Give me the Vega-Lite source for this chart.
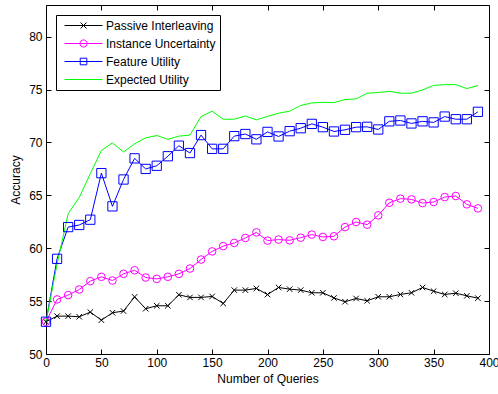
{
  "$schema": "https://vega.github.io/schema/vega-lite/v6.json",
  "width": 443,
  "height": 349,
  "autosize": "none",
  "padding": {"left": 46, "top": 5, "right": 9, "bottom": 40},
  "background": "white",
  "config": {
    "font": "Liberation Sans",
    "view": {"stroke": null},
    "axis": {
      "domainColor": "black", "tickColor": "black", "labelColor": "black", "titleColor": "black",
      "labelFontSize": 12, "titleFontSize": 12, "titleFontWeight": "normal",
      "tickSize": -5, "grid": false, "domainWidth": 1, "tickWidth": 1
    }
  },
  "datasets": {
    "acc": [
      {"series": "Passive Interleaving", "queries": 0, "accuracy": 53.05},
      {"series": "Passive Interleaving", "queries": 10, "accuracy": 53.58},
      {"series": "Passive Interleaving", "queries": 20, "accuracy": 53.58},
      {"series": "Passive Interleaving", "queries": 30, "accuracy": 53.52},
      {"series": "Passive Interleaving", "queries": 40, "accuracy": 53.96},
      {"series": "Passive Interleaving", "queries": 50, "accuracy": 53.2},
      {"series": "Passive Interleaving", "queries": 60, "accuracy": 53.9},
      {"series": "Passive Interleaving", "queries": 70, "accuracy": 54.06},
      {"series": "Passive Interleaving", "queries": 80, "accuracy": 55.4},
      {"series": "Passive Interleaving", "queries": 90, "accuracy": 54.28},
      {"series": "Passive Interleaving", "queries": 100, "accuracy": 54.56},
      {"series": "Passive Interleaving", "queries": 110, "accuracy": 54.56},
      {"series": "Passive Interleaving", "queries": 120, "accuracy": 55.6},
      {"series": "Passive Interleaving", "queries": 130, "accuracy": 55.35},
      {"series": "Passive Interleaving", "queries": 140, "accuracy": 55.35},
      {"series": "Passive Interleaving", "queries": 150, "accuracy": 55.44},
      {"series": "Passive Interleaving", "queries": 160, "accuracy": 54.78},
      {"series": "Passive Interleaving", "queries": 170, "accuracy": 56.04},
      {"series": "Passive Interleaving", "queries": 180, "accuracy": 56.04},
      {"series": "Passive Interleaving", "queries": 190, "accuracy": 56.2},
      {"series": "Passive Interleaving", "queries": 200, "accuracy": 55.62},
      {"series": "Passive Interleaving", "queries": 210, "accuracy": 56.29},
      {"series": "Passive Interleaving", "queries": 220, "accuracy": 56.13},
      {"series": "Passive Interleaving", "queries": 230, "accuracy": 56.04},
      {"series": "Passive Interleaving", "queries": 240, "accuracy": 55.79},
      {"series": "Passive Interleaving", "queries": 250, "accuracy": 55.79},
      {"series": "Passive Interleaving", "queries": 260, "accuracy": 55.3},
      {"series": "Passive Interleaving", "queries": 270, "accuracy": 54.94},
      {"series": "Passive Interleaving", "queries": 280, "accuracy": 55.25},
      {"series": "Passive Interleaving", "queries": 290, "accuracy": 55.03},
      {"series": "Passive Interleaving", "queries": 300, "accuracy": 55.41},
      {"series": "Passive Interleaving", "queries": 310, "accuracy": 55.41},
      {"series": "Passive Interleaving", "queries": 320, "accuracy": 55.63},
      {"series": "Passive Interleaving", "queries": 330, "accuracy": 55.79},
      {"series": "Passive Interleaving", "queries": 340, "accuracy": 56.29},
      {"series": "Passive Interleaving", "queries": 350, "accuracy": 55.94},
      {"series": "Passive Interleaving", "queries": 360, "accuracy": 55.63},
      {"series": "Passive Interleaving", "queries": 370, "accuracy": 55.75},
      {"series": "Passive Interleaving", "queries": 380, "accuracy": 55.5},
      {"series": "Passive Interleaving", "queries": 390, "accuracy": 55.28},
      {"series": "Instance Uncertainty", "queries": 0, "accuracy": 53.05},
      {"series": "Instance Uncertainty", "queries": 10, "accuracy": 55.16},
      {"series": "Instance Uncertainty", "queries": 20, "accuracy": 55.57},
      {"series": "Instance Uncertainty", "queries": 30, "accuracy": 56.1},
      {"series": "Instance Uncertainty", "queries": 40, "accuracy": 56.89},
      {"series": "Instance Uncertainty", "queries": 50, "accuracy": 57.3},
      {"series": "Instance Uncertainty", "queries": 60, "accuracy": 56.95},
      {"series": "Instance Uncertainty", "queries": 70, "accuracy": 57.58},
      {"series": "Instance Uncertainty", "queries": 80, "accuracy": 57.92},
      {"series": "Instance Uncertainty", "queries": 90, "accuracy": 57.23},
      {"series": "Instance Uncertainty", "queries": 100, "accuracy": 57.1},
      {"series": "Instance Uncertainty", "queries": 110, "accuracy": 57.3},
      {"series": "Instance Uncertainty", "queries": 120, "accuracy": 57.58},
      {"series": "Instance Uncertainty", "queries": 130, "accuracy": 58.08},
      {"series": "Instance Uncertainty", "queries": 140, "accuracy": 58.93},
      {"series": "Instance Uncertainty", "queries": 150, "accuracy": 59.7},
      {"series": "Instance Uncertainty", "queries": 160, "accuracy": 60.2},
      {"series": "Instance Uncertainty", "queries": 170, "accuracy": 60.5},
      {"series": "Instance Uncertainty", "queries": 180, "accuracy": 60.97},
      {"series": "Instance Uncertainty", "queries": 190, "accuracy": 61.5},
      {"series": "Instance Uncertainty", "queries": 200, "accuracy": 60.72},
      {"series": "Instance Uncertainty", "queries": 210, "accuracy": 60.82},
      {"series": "Instance Uncertainty", "queries": 220, "accuracy": 60.75},
      {"series": "Instance Uncertainty", "queries": 230, "accuracy": 61.0},
      {"series": "Instance Uncertainty", "queries": 240, "accuracy": 61.29},
      {"series": "Instance Uncertainty", "queries": 250, "accuracy": 61.07},
      {"series": "Instance Uncertainty", "queries": 260, "accuracy": 61.13},
      {"series": "Instance Uncertainty", "queries": 270, "accuracy": 62.0},
      {"series": "Instance Uncertainty", "queries": 280, "accuracy": 62.48},
      {"series": "Instance Uncertainty", "queries": 290, "accuracy": 62.23},
      {"series": "Instance Uncertainty", "queries": 300, "accuracy": 63.11},
      {"series": "Instance Uncertainty", "queries": 310, "accuracy": 64.3},
      {"series": "Instance Uncertainty", "queries": 320, "accuracy": 64.69},
      {"series": "Instance Uncertainty", "queries": 330, "accuracy": 64.62},
      {"series": "Instance Uncertainty", "queries": 340, "accuracy": 64.27},
      {"series": "Instance Uncertainty", "queries": 350, "accuracy": 64.37},
      {"series": "Instance Uncertainty", "queries": 360, "accuracy": 64.84},
      {"series": "Instance Uncertainty", "queries": 370, "accuracy": 64.94},
      {"series": "Instance Uncertainty", "queries": 380, "accuracy": 64.15},
      {"series": "Instance Uncertainty", "queries": 390, "accuracy": 63.77},
      {"series": "Feature Utility", "queries": 0, "accuracy": 53.05},
      {"series": "Feature Utility", "queries": 10, "accuracy": 59.0},
      {"series": "Feature Utility", "queries": 20, "accuracy": 62.0},
      {"series": "Feature Utility", "queries": 30, "accuracy": 62.2},
      {"series": "Feature Utility", "queries": 40, "accuracy": 62.7},
      {"series": "Feature Utility", "queries": 50, "accuracy": 67.1},
      {"series": "Feature Utility", "queries": 60, "accuracy": 63.96},
      {"series": "Feature Utility", "queries": 70, "accuracy": 66.5},
      {"series": "Feature Utility", "queries": 80, "accuracy": 68.5},
      {"series": "Feature Utility", "queries": 90, "accuracy": 67.5},
      {"series": "Feature Utility", "queries": 100, "accuracy": 67.8},
      {"series": "Feature Utility", "queries": 110, "accuracy": 68.7},
      {"series": "Feature Utility", "queries": 120, "accuracy": 69.7},
      {"series": "Feature Utility", "queries": 130, "accuracy": 69.0},
      {"series": "Feature Utility", "queries": 140, "accuracy": 70.7},
      {"series": "Feature Utility", "queries": 150, "accuracy": 69.4},
      {"series": "Feature Utility", "queries": 160, "accuracy": 69.4},
      {"series": "Feature Utility", "queries": 170, "accuracy": 70.6},
      {"series": "Feature Utility", "queries": 180, "accuracy": 70.8},
      {"series": "Feature Utility", "queries": 190, "accuracy": 70.3},
      {"series": "Feature Utility", "queries": 200, "accuracy": 71.0},
      {"series": "Feature Utility", "queries": 210, "accuracy": 70.57},
      {"series": "Feature Utility", "queries": 220, "accuracy": 71.07},
      {"series": "Feature Utility", "queries": 230, "accuracy": 71.35},
      {"series": "Feature Utility", "queries": 240, "accuracy": 71.76},
      {"series": "Feature Utility", "queries": 250, "accuracy": 71.45},
      {"series": "Feature Utility", "queries": 260, "accuracy": 71.04},
      {"series": "Feature Utility", "queries": 270, "accuracy": 71.2},
      {"series": "Feature Utility", "queries": 280, "accuracy": 71.45},
      {"series": "Feature Utility", "queries": 290, "accuracy": 71.48},
      {"series": "Feature Utility", "queries": 300, "accuracy": 71.23},
      {"series": "Feature Utility", "queries": 310, "accuracy": 72.0},
      {"series": "Feature Utility", "queries": 320, "accuracy": 72.08},
      {"series": "Feature Utility", "queries": 330, "accuracy": 71.8},
      {"series": "Feature Utility", "queries": 340, "accuracy": 72.0},
      {"series": "Feature Utility", "queries": 350, "accuracy": 71.9},
      {"series": "Feature Utility", "queries": 360, "accuracy": 72.45},
      {"series": "Feature Utility", "queries": 370, "accuracy": 72.2},
      {"series": "Feature Utility", "queries": 380, "accuracy": 72.2},
      {"series": "Feature Utility", "queries": 390, "accuracy": 72.9},
      {"series": "Expected Utility", "queries": 0, "accuracy": 53.05},
      {"series": "Expected Utility", "queries": 10, "accuracy": 58.5},
      {"series": "Expected Utility", "queries": 20, "accuracy": 63.27},
      {"series": "Expected Utility", "queries": 30, "accuracy": 64.8},
      {"series": "Expected Utility", "queries": 40, "accuracy": 67.05},
      {"series": "Expected Utility", "queries": 50, "accuracy": 69.25},
      {"series": "Expected Utility", "queries": 60, "accuracy": 69.97},
      {"series": "Expected Utility", "queries": 70, "accuracy": 69.1},
      {"series": "Expected Utility", "queries": 80, "accuracy": 69.87},
      {"series": "Expected Utility", "queries": 90, "accuracy": 70.44},
      {"series": "Expected Utility", "queries": 100, "accuracy": 70.66},
      {"series": "Expected Utility", "queries": 110, "accuracy": 70.3},
      {"series": "Expected Utility", "queries": 120, "accuracy": 70.6},
      {"series": "Expected Utility", "queries": 130, "accuracy": 70.7},
      {"series": "Expected Utility", "queries": 140, "accuracy": 72.45},
      {"series": "Expected Utility", "queries": 150, "accuracy": 72.96},
      {"series": "Expected Utility", "queries": 160, "accuracy": 72.2},
      {"series": "Expected Utility", "queries": 170, "accuracy": 72.2},
      {"series": "Expected Utility", "queries": 180, "accuracy": 72.5},
      {"series": "Expected Utility", "queries": 190, "accuracy": 72.14},
      {"series": "Expected Utility", "queries": 200, "accuracy": 72.47},
      {"series": "Expected Utility", "queries": 210, "accuracy": 72.77},
      {"series": "Expected Utility", "queries": 220, "accuracy": 72.96},
      {"series": "Expected Utility", "queries": 230, "accuracy": 73.5},
      {"series": "Expected Utility", "queries": 240, "accuracy": 73.74},
      {"series": "Expected Utility", "queries": 250, "accuracy": 73.8},
      {"series": "Expected Utility", "queries": 260, "accuracy": 73.77},
      {"series": "Expected Utility", "queries": 270, "accuracy": 74.06},
      {"series": "Expected Utility", "queries": 280, "accuracy": 74.12},
      {"series": "Expected Utility", "queries": 290, "accuracy": 74.66},
      {"series": "Expected Utility", "queries": 300, "accuracy": 74.72},
      {"series": "Expected Utility", "queries": 310, "accuracy": 74.84},
      {"series": "Expected Utility", "queries": 320, "accuracy": 74.66},
      {"series": "Expected Utility", "queries": 330, "accuracy": 74.66},
      {"series": "Expected Utility", "queries": 340, "accuracy": 74.97},
      {"series": "Expected Utility", "queries": 350, "accuracy": 75.4},
      {"series": "Expected Utility", "queries": 360, "accuracy": 75.47},
      {"series": "Expected Utility", "queries": 370, "accuracy": 75.47},
      {"series": "Expected Utility", "queries": 380, "accuracy": 75.1},
      {"series": "Expected Utility", "queries": 390, "accuracy": 75.38}
    ]
  },
  "data": {"name": "acc"},
  "resolve": {"axis": {"x": "independent", "y": "independent"}},
  "layer": [
    {
      "mark": {"type": "line", "strokeWidth": 1},
      "encoding": {
        "x": {
          "field": "queries", "type": "quantitative",
          "scale": {"domain": [0, 400], "nice": false},
          "axis": {"values": [0, 50, 100, 150, 200, 250, 300, 350, 400], "title": "Number of Queries", "labelPadding": 8, "titlePadding": 5, "labelFlush": false}
        },
        "y": {
          "field": "accuracy", "type": "quantitative",
          "scale": {"domain": [50, 83], "nice": false, "zero": false},
          "axis": {"values": [50, 55, 60, 65, 70, 75, 80], "title": "Accuracy", "labelPadding": 9, "titlePadding": 6, "labelFlush": false}
        },
        "color": {
          "field": "series", "type": "nominal",
          "scale": {"domain": ["Passive Interleaving", "Instance Uncertainty", "Feature Utility", "Expected Utility"], "range": ["#000000", "#ff00ff", "#0000ff", "#00ff00"]},
          "legend": {
            "title": null, "orient": "top-left", "offset": 10, "padding": 4,
            "strokeColor": "black", "fillColor": "white", "cornerRadius": 0,
            "labelFontSize": 12, "labelColor": "black", "symbolSize": 144,
            "symbolOffset": 4, "labelOffset": 29, "rowPadding": 5, "symbolStrokeWidth": 1,
            "encode": {
              "symbols": {
                "update": {
                  "shape": {"signal": "datum.value === 'Passive Interleaving' ? 'M-1,0H5.33M1.67,-0.5L2.67,0.5M1.67,0.5L2.67,-0.5' : datum.value === 'Instance Uncertainty' ? 'M-1,0H5.33M1.57,0A0.6,0.6 0 1 0 2.77,0A0.6,0.6 0 1 0 1.57,0' : datum.value === 'Feature Utility' ? 'M-1,0H5.33M1.62,-0.55H2.72V0.55H1.62Z' : 'M-1,0H5.33'"},
                  "fill": {"value": "transparent"},
                  "stroke": {"scale": "color", "field": "value"},
                  "strokeWidth": {"value": 1},
                  "opacity": {"value": 1}
                }
              }
            }
          }
        }
      }
    },
    {
      "transform": [{"filter": "datum.series !== 'Expected Utility'"}],
      "mark": {"type": "point", "filled": false, "strokeWidth": 1, "opacity": 1},
      "encoding": {
        "x": {"field": "queries", "type": "quantitative", "axis": null},
        "y": {"field": "accuracy", "type": "quantitative", "axis": null},
        "color": {"field": "series", "type": "nominal", "legend": null},
        "shape": {
          "field": "series", "type": "nominal",
          "scale": {"domain": ["Passive Interleaving", "Instance Uncertainty", "Feature Utility"], "range": ["M-1,-1L1,1M-1,1L1,-1", "circle", "square"]},
          "legend": null
        },
        "size": {
          "field": "series", "type": "nominal",
          "scale": {"domain": ["Passive Interleaving", "Instance Uncertainty", "Feature Utility"], "range": [30, 86, 42]},
          "legend": null
        }
      }
    },
    {
      "mark": {"type": "point", "opacity": 0},
      "encoding": {
        "x": {"field": "queries", "type": "quantitative", "axis": {"orient": "top", "labels": false, "title": null, "values": [0, 50, 100, 150, 200, 250, 300, 350, 400]}},
        "y": {"field": "accuracy", "type": "quantitative", "axis": {"orient": "right", "labels": false, "title": null, "values": [50, 55, 60, 65, 70, 75, 80]}}
      }
    }
  ]
}
